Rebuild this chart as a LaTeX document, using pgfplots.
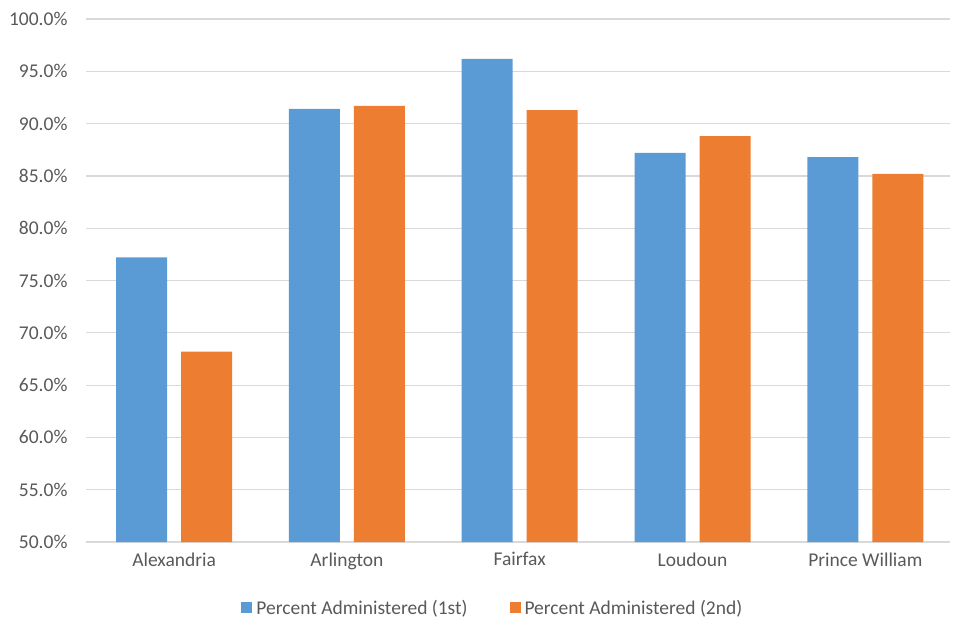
\documentclass[border=0pt]{standalone}
\usepackage{pgfplots}
\pgfplotsset{compat=1.18}
\usepackage{fontspec}
\setmainfont{Carlito}
\definecolor{cblue}{HTML}{5B9BD5}
\definecolor{corange}{HTML}{ED7D31}
\definecolor{grid}{HTML}{D9D9D9}
\definecolor{txt}{HTML}{595959}
\begin{document}
\begin{tikzpicture}[x=1pt,y=1pt]
\useasboundingbox (0,0) rectangle (957,625);
\begin{axis}[
    at={(86pt,83pt)}, anchor=south west,
    scale only axis,
    width=864pt, height=523pt,
    ybar=14pt, bar width=51pt,
    xmin=-0.51, xmax=4.49,
    ymin=50, ymax=100,
    ytick={50,55,...,100},
    xtick=data,
    xticklabels={Alexandria,Arlington,Fairfax,Loudoun,Prince William},
    yticklabel={\pgfmathprintnumber[fixed,fixed zerofill,precision=1]{\tick}\%},
    /pgf/number format/assume math mode=true,
    axis x line=bottom, axis y line=left,
    x axis line style={grid, line width=1.5pt, -},
    y axis line style={draw=none},
    ymajorgrids, xmajorgrids=false,
    y grid style={grid, line width=1.2pt},
    major tick length=0pt,
    tick label style={font=\fontsize{19.5}{21}\selectfont, text=txt},
    xticklabel style={yshift=-7pt},
    yticklabel style={xshift=-15pt},
    ytick style={draw=none}, xtick style={draw=none},
    legend columns=2,
    legend style={draw=none, at={(0.472,-0.126)}, anchor=center,
        font=\fontsize{19.5}{21}\selectfont, text=txt,
        /tikz/every even column/.append style={column sep=38pt}},
    legend image code/.code={\fill[#1] (0pt,-5.5pt) rectangle (11pt,5.5pt);},
    legend cell align=left,
    legend style={/tikz/every node/.append style={inner xsep=4pt}},
]
\addplot[fill=cblue, draw=none] coordinates {(0,77.2) (1,91.4) (2,96.2) (3,87.2) (4,86.8)};
\addplot[fill=corange, draw=none] coordinates {(0,68.2) (1,91.7) (2,91.3) (3,88.8) (4,85.2)};
\legend{Percent Administered (1st),Percent Administered (2nd)}
\end{axis}
\end{tikzpicture}
\end{document}
